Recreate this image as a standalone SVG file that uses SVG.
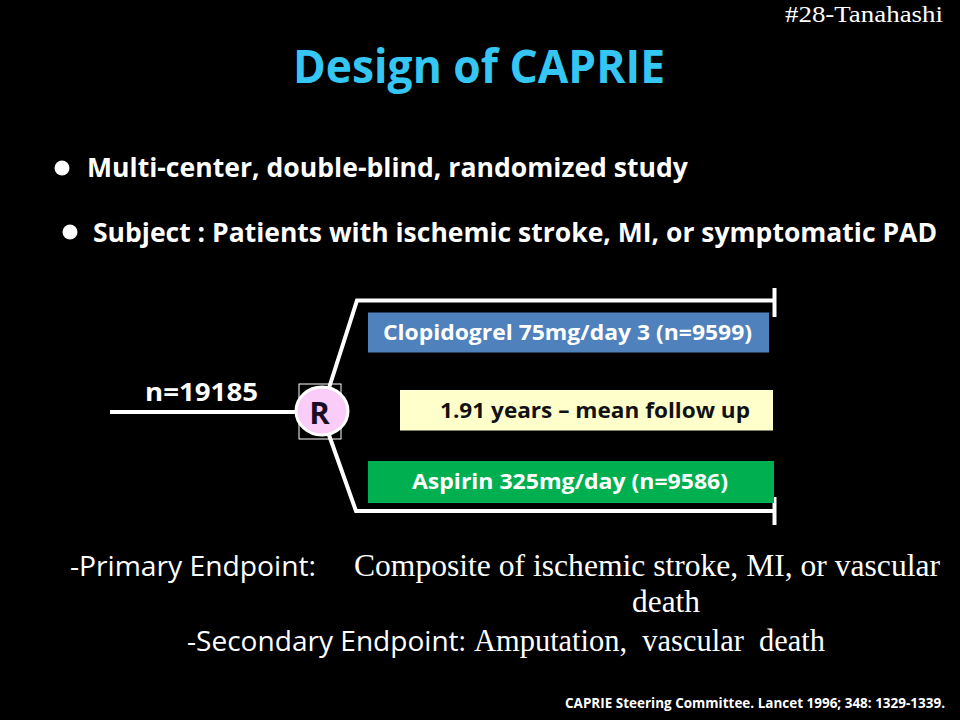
<svg xmlns="http://www.w3.org/2000/svg" width="960" height="720" viewBox="0 0 960 720">
<style>
.sans{font-family:"Open Sans",Lato,sans-serif}
.serif{font-family:"Liberation Serif","Times New Roman",serif}
.b{font-weight:bold}
.w{fill:#ffffff}
.ln{stroke:#ffffff;stroke-width:4;fill:none;stroke-linejoin:miter}
</style>
<rect x="0" y="0" width="960" height="720" fill="#000000"/>
<text class="serif w" x="785" y="22" font-size="23" textLength="158" lengthAdjust="spacingAndGlyphs">#28-Tanahashi</text>
<text class="sans b" x="293" y="83" font-size="46" fill="#35c6f4" textLength="372" lengthAdjust="spacingAndGlyphs">Design of CAPRIE</text>
<g id="bullet1">
<circle cx="62" cy="168" r="7.5" fill="#ffffff"/>
<text class="sans b w" x="87" y="177" font-size="27" textLength="601" lengthAdjust="spacingAndGlyphs">Multi-center, double-blind, randomized study</text>
</g>
<g id="bullet2">
<circle cx="70" cy="232" r="7.5" fill="#ffffff"/>
<text class="sans b w" x="93" y="242" font-size="27" textLength="844" lengthAdjust="spacingAndGlyphs">Subject : Patients with ischemic stroke, MI, or symptomatic PAD</text>
</g>
<g id="connectors">
<line class="ln" x1="110" y1="412" x2="296" y2="412"/>
<polyline class="ln" points="329,388 357,300.5 774,300.5"/>
<polyline class="ln" points="329,435 356,511 774,511"/>
<line class="ln" x1="774.5" y1="288" x2="774.5" y2="317"/>
<line class="ln" x1="774.5" y1="497" x2="774.5" y2="525"/>
</g>
<g id="n-label">
<text class="sans b w" x="145" y="401" font-size="25" textLength="113" lengthAdjust="spacingAndGlyphs">n=19185</text>
</g>
<g id="R-node">
<rect x="299" y="384" width="42" height="55" fill="none" stroke="#ffffff" stroke-width="1"/>
<ellipse cx="322" cy="411" rx="26" ry="24" fill="#f9cdf7" stroke="#ffffff" stroke-width="3"/>
<text class="sans b" x="319.5" y="423.5" font-size="31" fill="#1a0d24" text-anchor="middle">R</text>
</g>
<g id="clopidogrel">
<rect x="368" y="312.5" width="401" height="40" fill="#4f81bd"/>
<text class="sans b w" x="383" y="340" font-size="22" textLength="369" lengthAdjust="spacingAndGlyphs">Clopidogrel 75mg/day 3 (n=9599)</text>
</g>
<g id="followup">
<rect x="400" y="390" width="373" height="40.5" fill="#ffffcc"/>
<text class="sans b" x="440" y="418" font-size="22" fill="#111111" textLength="310" lengthAdjust="spacingAndGlyphs">1.91 years – mean follow up</text>
</g>
<g id="aspirin">
<rect x="368" y="461" width="406" height="42" fill="#00b050"/>
<text class="sans b w" x="412" y="489" font-size="22" textLength="316" lengthAdjust="spacingAndGlyphs">Aspirin 325mg/day (n=9586)</text>
</g>
<g id="endpoints">
<text class="sans w" x="70" y="576" font-size="27" textLength="246" lengthAdjust="spacingAndGlyphs">-Primary Endpoint:</text>
<text class="serif w" x="354" y="576" font-size="31" textLength="586" lengthAdjust="spacingAndGlyphs">Composite of ischemic stroke, MI, or vascular</text>
<text class="serif w" x="632" y="612" font-size="31" textLength="68" lengthAdjust="spacingAndGlyphs">death</text>
<text class="sans w" x="187" y="651" font-size="27" textLength="279" lengthAdjust="spacingAndGlyphs">-Secondary Endpoint:</text>
<text class="serif w" x="474" y="651" font-size="31" textLength="351" lengthAdjust="spacingAndGlyphs" style="white-space:pre">Amputation,  vascular  death</text>
</g>
<text class="sans b w" x="565" y="708" font-size="13.5" textLength="380" lengthAdjust="spacingAndGlyphs">CAPRIE Steering Committee. Lancet 1996; 348: 1329-1339.</text>
</svg>
